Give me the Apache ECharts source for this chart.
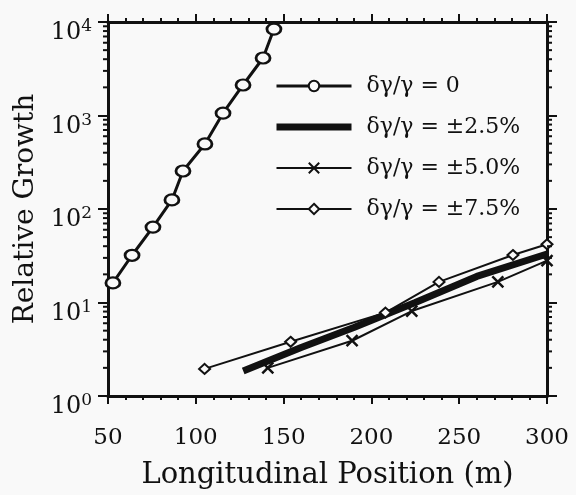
<!DOCTYPE html>
<html>
<head>
<meta charset="utf-8">
<script src="https://cdn.jsdelivr.net/npm/echarts@6/dist/echarts.min.js"></script>
<style>
html,body{margin:0;padding:0;background:#f9f9f9;}
#chart{width:576px;height:495px;}
</style>
</head>
<body>
<div id="chart"></div>
<script>
// ---- data ----
const seriesNames = ['δγ/γ = 0', 'δγ/γ = ±2.5%', 'δγ/γ = ±5.0%', 'δγ/γ = ±7.5%'];
const pos0    = [52.8, 63.7, 75.6, 86.4, 92.7, 105.2, 115.5, 126.9, 138.3, 144.5];
const growth0 = [16.2, 32, 64, 125, 255, 496, 1060, 2120, 4120, 8400];
const pos25    = [127, 160, 190, 225, 260, 300];
const growth25 = [1.85, 3.3, 5.4, 10, 19, 33];
const pos50    = [141, 189, 223, 272, 300];
const growth50 = [2.0, 3.9, 8.1, 16.6, 28];
const pos75    = [105, 154, 208, 238.5, 280.6, 300];
const growth75 = [1.95, 3.8, 7.8, 16.6, 32.2, 42];
const xTickValues = [50, 100, 150, 200, 250, 300];
const yMinorTicks = [2,3,4,5,6,7,8,9,20,30,40,50,60,70,80,90,200,300,400,500,600,700,800,900,2000,3000,4000,5000,6000,7000,8000,9000];

const INK = '#111';
const BG = '#f9f9f9';
const FONT = 'DejaVu Serif';

function pairs(xs, ys) { return xs.map((x, i) => [x, ys[i]]); }

const chart = echarts.init(document.getElementById('chart'), null, {renderer: 'canvas'});

const xCommon = {
  type: 'value', min: xTickValues[0], max: xTickValues[xTickValues.length - 1], interval: 50,
  splitLine: {show: false},
  axisLine: {show: true, onZero: false, lineStyle: {color: INK, width: 3}},
  axisTick: {show: true, inside: false, length: 8, lineStyle: {color: INK, width: 2}},
  minorTick: {show: true, splitNumber: 5, length: 4, lineStyle: {color: INK, width: 2}},
  minorSplitLine: {show: false}
};
const yCommon = {
  type: 'log', logBase: 10, min: 1, max: 10000,
  splitLine: {show: false},
  axisLine: {show: true, onZero: false, lineStyle: {color: INK, width: 3}},
  axisTick: {show: true, inside: false, length: 10, lineStyle: {color: INK, width: 2}},
  minorTick: {show: false}
};

const option = {
  backgroundColor: BG,
  animation: false,
  grid: {left: 108, right: 29, top: 22, bottom: 99, containLabel: false},
  xAxis: [
    Object.assign({}, xCommon, {
      position: 'bottom',
      name: 'Longitudinal Position (m)', nameLocation: 'middle', nameGap: 65,
      nameTextStyle: {fontFamily: FONT, fontSize: 29, color: INK},
      axisLabel: {show: true, margin: 31, fontFamily: FONT, fontSize: 23, color: INK}
    }),
    Object.assign({}, xCommon, {position: 'top', axisLabel: {show: false}})
  ],
  yAxis: [
    Object.assign({}, yCommon, {
      position: 'left',
      name: 'Relative Growth', nameLocation: 'middle', nameGap: 62, nameRotate: 90,
      nameTextStyle: {fontFamily: FONT, fontSize: 28, color: INK},
      axisLabel: {
        show: true, margin: 16, color: INK, padding: [22, 0, 0, 0],
        formatter: v => '{b|10}{s|' + Math.round(Math.log10(v)) + '}',
        rich: {
          b: {fontFamily: FONT, fontSize: 24, color: INK},
          s: {fontFamily: FONT, fontSize: 17, color: INK, padding: [0, 0, 12, 0]}
        }
      }
    }),
    Object.assign({}, yCommon, {position: 'right', axisLabel: {show: false}})
  ],
  legend: {
    data: [
      {name: seriesNames[0], lineStyle: {width: 3}},
      {name: seriesNames[1], icon: 'path://M0,0L75,0L75,7L0,7Z'},
      {name: seriesNames[2], lineStyle: {width: 2}},
      {name: seriesNames[3], lineStyle: {width: 2}}
    ],
    orient: 'vertical',
    left: 270, top: 70,
    itemWidth: 75, itemHeight: 13, itemGap: 19,
    textStyle: {fontFamily: FONT, fontSize: 22, color: INK, padding: [0, 0, 0, 10]},
    selectedMode: false
  },
  series: [
    {
      name: seriesNames[0], type: 'line', data: pairs(pos0, growth0),
      symbol: 'circle', symbolSize: [14, 11], showAllSymbol: true,
      lineStyle: {color: INK, width: 3},
      itemStyle: {color: BG, borderColor: INK, borderWidth: 2.5},
      z: 5
    },
    {
      name: seriesNames[1], type: 'line', data: pairs(pos25, growth25),
      symbol: 'none',
      lineStyle: {color: INK, width: 7},
      itemStyle: {color: INK},
      z: 3
    },
    {
      name: seriesNames[2], type: 'line', data: pairs(pos50, growth50),
      symbol: 'path://M0,0L10,10M10,0L0,10', symbolSize: 11,
      lineStyle: {color: INK, width: 2},
      itemStyle: {color: INK, borderColor: INK, borderWidth: 2.5},
      z: 4
    },
    {
      name: seriesNames[3], type: 'line', data: pairs(pos75, growth75),
      symbol: 'diamond', symbolSize: [11, 10],
      lineStyle: {color: INK, width: 2},
      itemStyle: {color: BG, borderColor: INK, borderWidth: 2},
      z: 4
    },
    {
      name: 'minorTicks', type: 'custom', silent: true, clip: false,
      data: yMinorTicks.map(v => [xTickValues[0], v]),
      encode: {x: 0, y: 1},
      renderItem: function (params, api) {
        const v = api.value(1);
        const pL = api.coord([xTickValues[0], v]);
        const pR = api.coord([xTickValues[xTickValues.length - 1], v]);
        const st = {stroke: INK, lineWidth: 2};
        return {type: 'group', children: [
          {type: 'line', shape: {x1: pL[0] - 5, y1: pL[1], x2: pL[0], y2: pL[1]}, style: st},
          {type: 'line', shape: {x1: pR[0], y1: pR[1], x2: pR[0] + 5, y2: pR[1]}, style: st}
        ]};
      },
      z: 6
    }
  ]
};
chart.setOption(option);
</script>
</body>
</html>
